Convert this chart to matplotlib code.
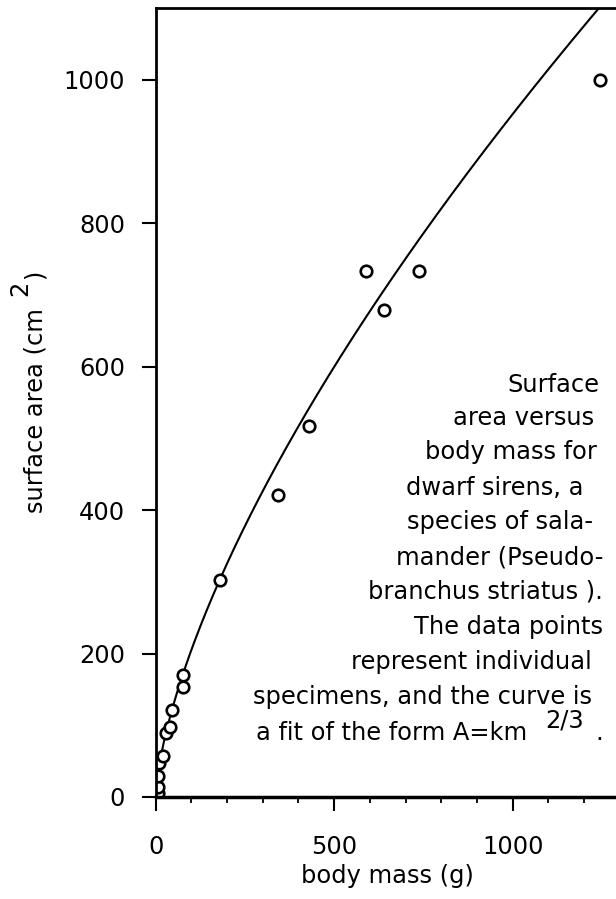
import numpy as np
import matplotlib.pyplot as plt
from matplotlib.ticker import MultipleLocator

# dados: massa corporal (g) e área de superfície (cm^2)
massa = [6, 6, 6, 10, 21, 29, 40, 46, 77, 77, 180, 343, 429, 590, 640, 738, 1245]
area = [6, 14, 29, 48, 57, 89, 98, 121, 153, 170, 302, 421, 517, 733, 679, 733, 1000]

# ajuste da forma A = k m^(2/3)
k = 9.52
m_curva = np.linspace(0, 1300, 400)
a_curva = k * m_curva ** (2 / 3)

x_ticks = [0, 500, 1000]
y_ticks = [0, 200, 400, 600, 800, 1000]

W, H = 616, 899
plt.rcParams['font.family'] = ['DejaVu Sans']
plt.rcParams['font.size'] = 17.4

fig = plt.figure(figsize=(W / 100, H / 100), dpi=100)
ax = fig.add_axes([155.7 / W, 102 / H, 464 / W, 789 / H])

ax.plot(m_curva, a_curva, color='black', linewidth=1.5)
ax.plot(massa, area, 'o', markerfacecolor='white', markeredgecolor='black',
        markersize=8.3, markeredgewidth=1.9, linestyle='none')

ax.set_xlim(0, 1300)
ax.set_ylim(0, 1100)
ax.set_xticks(x_ticks)
ax.set_yticks(y_ticks)
ax.xaxis.set_minor_locator(MultipleLocator(100))
ax.tick_params(which='major', length=10, width=1.5, direction='out')
ax.tick_params(which='minor', length=4, width=1.3, direction='out')
ax.tick_params(axis='x', pad=17)
ax.tick_params(axis='y', pad=12)
for lado in ['left', 'top', 'bottom']:
    ax.spines[lado].set_linewidth(2)
ax.spines['bottom'].set_linewidth(2.5)
ax.spines['right'].set_visible(False)


def px(x, y):
    return x / W, 1 - y / H


ax.set_xlabel("body mass (g)", labelpad=4)

# rótulo do eixo y com o expoente elevado
kw = dict(rotation=90, rotation_mode='anchor', ha='left', va='baseline')
fig.text(*px(42, 513), "surface area (cm", **kw)
fig.text(*px(27, 296), "2", **kw)
fig.text(*px(42, 279), ")", **kw)

# legenda da figura dentro do gráfico
linhas = ["Surface", "area versus", "body mass for", "dwarf sirens, a",
          "species of sala-", "mander (Pseudo-", "branchus striatus ).",
          "The data points", "represent individual",
          "specimens, and the curve is"]
direita = [599, 594, 597, 583, 593, 603, 603, 603, 592, 592]
base = [392, 425, 459, 495, 529, 564, 599, 634, 669, 704]
for txt, xr, yb in zip(linhas, direita, base):
    fig.text(*px(xr, yb), txt, ha='right', va='baseline')
fig.text(*px(527, 740), "a fit of the form A=km", ha='right', va='baseline')
fig.text(*px(545, 727), "2/3", ha='left', va='baseline')
fig.text(*px(603, 740), ".", ha='right', va='baseline')

fig.savefig("out.png", dpi=100)
